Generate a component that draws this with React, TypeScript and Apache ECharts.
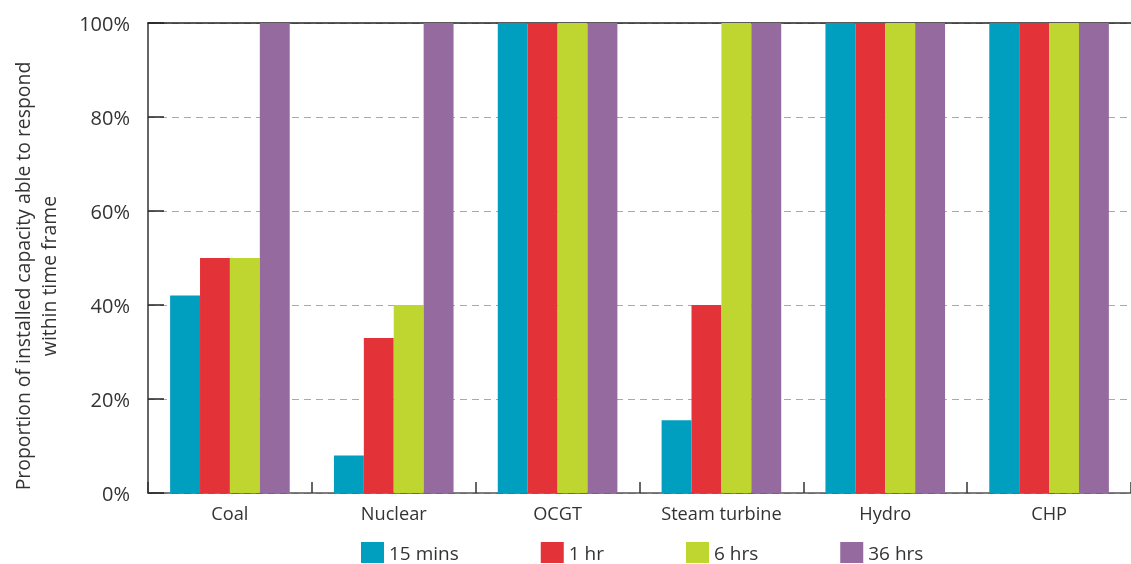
import React, { useEffect, useRef } from "react";
import * as echarts from "echarts";

const categories = ["Coal", "Nuclear", "OCGT", "Steam turbine", "Hydro", "CHP"];
const seriesNames = ["15 mins", "1 hr", "6 hrs", "36 hrs"];
const mins15 = [42, 8, 100, 15.5, 100, 100];
const hr1 = [50, 33, 100, 40, 100, 100];
const hrs6 = [50, 40, 100, 100, 100, 100];
const hrs36 = [100, 100, 100, 100, 100, 100];
const colors = ["#009EBF", "#E43338", "#BED62F", "#946A9F"];
const yTicks = [0, 20, 40, 60, 80, 100];
const yAxisTitle = "Proportion of installed capacity able to respond\nwithin time frame";

const FONT = "Open Sans";

export default function App() {
  const ref = useRef<HTMLDivElement>(null);
  useEffect(() => {
    if (!ref.current) return;
    const chart = echarts.init(ref.current, undefined, { renderer: "svg" });
    const values = [mins15, hr1, hrs6, hrs36];
    chart.setOption({
      animation: false,
      textStyle: { fontFamily: FONT },
      grid: { left: 148, right: 0, top: 23, bottom: 71, containLabel: false, outerBoundsMode: "none" },
      graphic: [
        {
          type: "text",
          x: 35,
          y: 276,
          rotation: Math.PI / 2,
          style: {
            text: yAxisTitle,
            fontSize: 19.4,
            lineHeight: 26,
            fontFamily: FONT,
            fill: "#333",
            align: "center",
            verticalAlign: "middle",
          },
        },
      ],
      legend: {
        data: seriesNames,
        bottom: 1,
        left: 361,
        itemWidth: 23,
        itemHeight: 21,
        itemGap: 82,
        icon: "rect",
        textStyle: { fontSize: 19, lineHeight: 20, color: "#333", fontFamily: FONT },
        padding: [0, 0, 0, 0],
      },
      xAxis: [
        {
          type: "category",
          data: categories,
          axisLine: { lineStyle: { color: "#555", width: 1.5 } },
          axisTick: { show: true, inside: true, length: 11, lineStyle: { color: "#333", width: 1.5 } },
          axisLabel: { fontSize: 18.2, color: "#333", margin: 11, fontFamily: FONT, interval: 0 },
        },
        {
          type: "category",
          data: categories,
          position: "top",
          axisLine: { show: true, lineStyle: { color: "#222", width: 1.5 } },
          axisTick: { show: false },
          axisLabel: { show: false },
        },
      ],
      yAxis: {
        type: "value",
        min: 0,
        max: 100,
        interval: 20,
        axisLine: { show: true, lineStyle: { color: "#333", width: 1.5 } },
        axisTick: { show: true, inside: true, length: 16, lineStyle: { color: "#222", width: 1.5 } },
        axisLabel: {
          fontSize: 20,
          color: "#333",
          margin: 18,
          fontFamily: FONT,
          formatter: (v: number) => (yTicks.includes(v) ? v + "%" : ""),
        },
        splitLine: { show: true, lineStyle: { color: "#aaa", type: [7, 5], width: 1.2 } },
      },
      series: seriesNames.map((name, i) => ({
        name,
        type: "bar",
        data: values[i],
        barGap: "0%",
        barCategoryGap: "27%",
        itemStyle: { color: colors[i] },
      })),
    });
    return () => chart.dispose();
  }, []);
  return <div ref={ref} style={{ position: "fixed", left: 0, top: 0, width: 1131, height: 564 }} />;
}
